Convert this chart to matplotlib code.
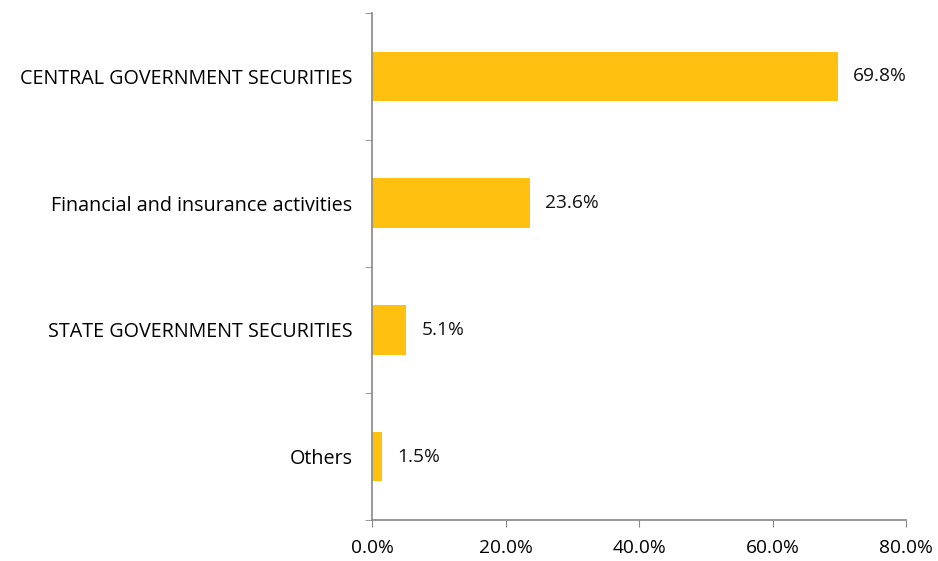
import matplotlib.pyplot as plt
import numpy as np

#chart data
categories = ['CENTRAL GOVERNMENT SECURITIES', 'Financial and insurance activities',
              'STATE GOVERNMENT SECURITIES', 'Others']
shares = [69.8, 23.6, 5.1, 1.5]
xticks = [0, 20, 40, 60, 80]

plt.rcParams['font.family'] = ['Open Sans', 'DejaVu Sans']

fig = plt.figure(figsize=(9.38, 5.61), dpi=100)
ax = fig.add_axes([0.3966, 0.0731, 0.5693, 0.9037])

ypos = np.arange(len(categories))
ax.barh(ypos, shares, height=0.39, color='#FFC010')

#value labels to the right of each bar
for y, v in zip(ypos, shares):
    ax.annotate('%.1f%%' % v, (v, y), xytext=(11, 0), textcoords='offset points',
                va='center', ha='left', fontsize=13.8, color='#111111')

ax.set_xlim(0, 80)
ax.set_ylim(len(categories) - 0.5, -0.5)
ax.set_xticks(xticks)
ax.set_xticklabels(['%.1f%%' % t for t in xticks], fontsize=13.8)
ax.set_yticks(ypos)
ax.set_yticklabels(categories, fontsize=14.2)
ax.set_yticks(np.arange(len(categories) + 1) - 0.5, minor=True)

ax.tick_params(axis='y', which='major', length=0, pad=14)
ax.tick_params(axis='y', which='minor', length=5, color='#888888', direction='out')
ax.tick_params(axis='x', length=5, color='#888888', pad=9)

for s in ['top', 'right']:
    ax.spines[s].set_visible(False)
for s in ['left', 'bottom']:
    ax.spines[s].set_color('#888888')
    ax.spines[s].set_linewidth(1.2)

plt.savefig('out.png', dpi=100)
